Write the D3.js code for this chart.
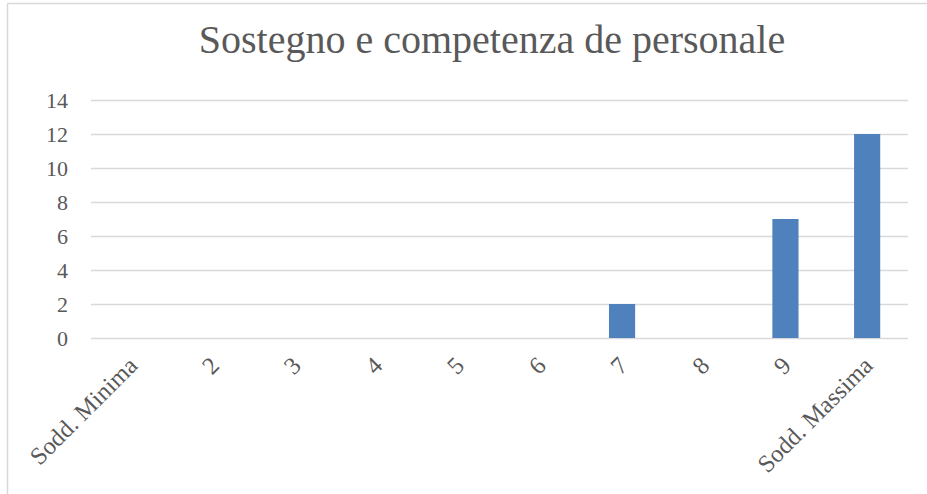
<!DOCTYPE html>
<html>
<head>
<meta charset="utf-8">
<script src="https://cdn.jsdelivr.net/npm/d3@7"></script>
<style>
  html, body { margin: 0; padding: 0; background: #fff; }
  svg { display: block; }
</style>
</head>
<body>
<svg id="chart" width="927" height="494"></svg>
<script>
const title = "Sostegno e competenza de personale";
const categories = ["Sodd. Minima", "2", "3", "4", "5", "6", "7", "8", "9", "Sodd. Massima"];
const values = [0, 0, 0, 0, 0, 0, 2, 0, 7, 12];
const yTicks = [0, 2, 4, 6, 8, 10, 12, 14];

const svg = d3.select("#chart");
const W = 927, H = 494;
const font = "'Liberation Serif', 'Times New Roman', serif";
const textColor = "#595959";
const gridColor = "#d9d9d9";

// chart border (top and left visible)
svg.append("line").attr("x1", 7.5).attr("x2", W).attr("y1", 3.5).attr("y2", 3.5)
  .attr("stroke", gridColor).attr("stroke-width", 1.5);
svg.append("line").attr("x1", 7.5).attr("x2", 7.5).attr("y1", 3.5).attr("y2", H)
  .attr("stroke", gridColor).attr("stroke-width", 1.5);

const plot = { left: 91, right: 908, top: 100, bottom: 338 };

const x = d3.scaleBand().domain(categories).range([plot.left, plot.right]).paddingInner(0.68).paddingOuter(0.34);
const y = d3.scaleLinear().domain([0, 14]).range([plot.bottom, plot.top]);

// gridlines
svg.append("g").selectAll("line").data(yTicks).join("line")
  .attr("x1", plot.left).attr("x2", plot.right)
  .attr("y1", d => Math.round(y(d)) + 0.5).attr("y2", d => Math.round(y(d)) + 0.5)
  .attr("stroke", gridColor).attr("stroke-width", 1.3);

// y tick labels
svg.append("g").selectAll("text").data(yTicks).join("text")
  .attr("x", 68).attr("y", d => y(d)).attr("dy", "0.35em")
  .attr("text-anchor", "end")
  .attr("font-family", font).attr("font-size", 22).attr("fill", textColor)
  .text(d => d);

// bars
svg.append("g").selectAll("rect").data(values).join("rect")
  .attr("x", (d, i) => x(categories[i]))
  .attr("width", x.bandwidth())
  .attr("y", d => y(d))
  .attr("height", d => y(0) - y(d))
  .attr("fill", "#4f81bd");

// category labels
svg.append("g").selectAll("text").data(categories).join("text")
  .attr("transform", d => `translate(${x(d) + x.bandwidth() / 2 + 1},361) rotate(-45)`)
  .attr("dy", "0.35em")
  .attr("text-anchor", "end")
  .attr("font-family", font).attr("font-size", 24.5).attr("fill", textColor)
  .text(d => d);

// title
svg.append("text")
  .attr("x", 492).attr("y", 53)
  .attr("text-anchor", "middle")
  .attr("font-family", font).attr("font-size", 40).attr("fill", textColor)
  .text(title);
</script>
</body>
</html>
